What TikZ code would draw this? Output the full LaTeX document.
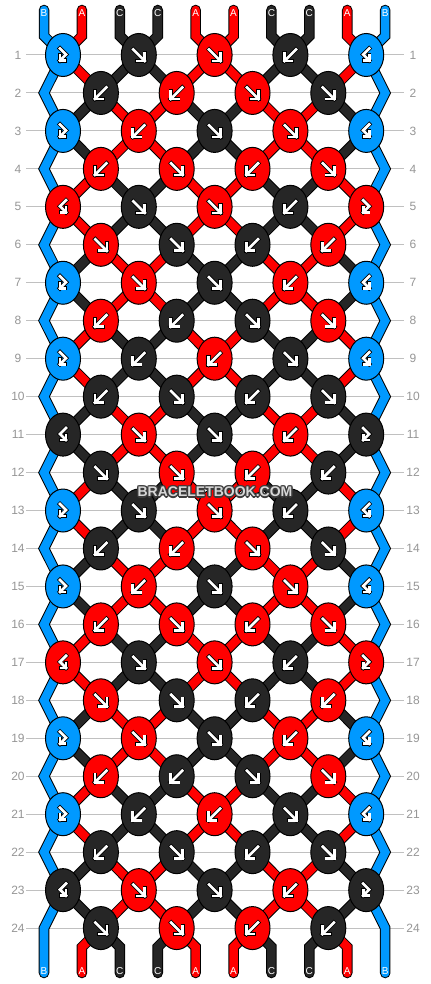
\documentclass[tikz,border=0pt]{standalone}
\usepackage{fontspec}
\setmainfont{Liberation Sans}
\usetikzlibrary{shapes.geometric}
\definecolor{cA}{RGB}{255,0,0}
\definecolor{cB}{RGB}{0,153,255}
\definecolor{cC}{RGB}{38,38,38}
\definecolor{gridgray}{RGB}{192,192,192}
\definecolor{labelgray}{RGB}{150,150,150}
\definecolor{wmdark}{RGB}{60,60,60}
\definecolor{wmlight}{RGB}{215,215,215}
\pgfdeclarelayer{bgfill}
\pgfdeclarelayer{grid}
\pgfdeclarelayer{strands}
\pgfsetlayers{bgfill,grid,strands,main}
\tikzset{
  knot/.style={ellipse, draw=black, line width=0.75pt, minimum width=26.25pt, minimum height=32.25pt, inner sep=0pt},
  strand/.style={draw=black, line width=0.75pt, double=#1, double distance=6.4pt, line cap=round},
  icono/.style={draw=black, line width=3.2pt, line cap=rect, line join=miter},
  iconi/.style={draw=white, line width=2pt, line cap=rect, line join=miter},
  gridline/.style={draw=gridgray, line width=0.75pt},
  rowlbl/.style={text=labelgray, font=\fontsize{9}{10}\selectfont, inner sep=0pt},
  strlbl/.style={text=white, font=\fontsize{7.5}{8}\selectfont, inner sep=0pt},
  wmtext/.style={font=\fontsize{10.5}{12}\selectfont\bfseries, inner sep=0pt},
  arf/.pic={
    \draw[icono] (-5.5,-5.5)--(6,6); \draw[icono] (6,-1.5)--(6,6)--(-1.5,6);
    \draw[iconi] (-5.5,-5.5)--(6,6); \draw[iconi] (6,-1.5)--(6,6)--(-1.5,6);
  },
  arb/.pic={
    \draw[icono] (5.5,-5.5)--(-6,6); \draw[icono] (-6,-1.5)--(-6,6)--(1.5,6);
    \draw[iconi] (5.5,-5.5)--(-6,6); \draw[iconi] (-6,-1.5)--(-6,6)--(1.5,6);
  },
  arfb/.pic={
    \draw[icono] (-3,-6.5)--(3,-0.5)--(-3,5.5); \draw[icono] (-3,0.5)--(-3,5.5)--(2,5.5);
    \draw[iconi] (-3,-6.5)--(3,-0.5)--(-3,5.5); \draw[iconi] (-3,0.5)--(-3,5.5)--(2,5.5);
  },
  arbf/.pic={
    \draw[icono] (3,-6.5)--(-3,-0.5)--(3,5.5); \draw[icono] (3,0.5)--(3,5.5)--(-2,5.5);
    \draw[iconi] (3,-6.5)--(-3,-0.5)--(3,5.5); \draw[iconi] (3,0.5)--(3,5.5)--(-2,5.5);
  }
}
\expandafter\def\csname kr1\endcsname{B/fb,C/f,A/f,C/b,B/bf}
\expandafter\def\csname kr2\endcsname{C/b,A/b,A/f,C/f}
\expandafter\def\csname kr3\endcsname{B/fb,A/b,C/f,A/f,B/bf}
\expandafter\def\csname kr4\endcsname{A/b,A/f,A/b,A/f}
\expandafter\def\csname kr5\endcsname{A/bf,C/f,A/f,C/b,A/fb}
\expandafter\def\csname kr6\endcsname{A/f,C/f,C/b,A/b}
\expandafter\def\csname kr7\endcsname{B/fb,A/f,C/f,A/b,B/bf}
\expandafter\def\csname kr8\endcsname{A/b,C/b,C/f,A/f}
\expandafter\def\csname kr9\endcsname{B/fb,C/b,A/b,C/f,B/bf}
\expandafter\def\csname kr10\endcsname{C/b,C/f,C/b,C/f}
\expandafter\def\csname kr11\endcsname{C/bf,A/f,C/f,A/b,C/fb}
\expandafter\def\csname kr12\endcsname{C/f,A/f,A/b,C/b}
\begin{document}
\begin{tikzpicture}[x=0.75pt,y=-0.75pt]
\begin{pgfonlayer}{bgfill}
\fill[white] (0,0) rectangle (430,984);
\end{pgfonlayer}
\useasboundingbox (0,0) rectangle (430,984);
% grid lines and row labels
\begin{pgfonlayer}{grid}
\foreach \r in {1,...,24}{
  \pgfmathsetmacro\yy{55+37.96*(\r-1)}
  \coordinate (gl-\r) at (26,\yy);
  \coordinate (gr-\r) at (404,\yy);
  \draw[gridline] (gl-\r) -- (gr-\r);
  \node[rowlbl] (rl-\r) at (18,\yy) {\r};
  \node[rowlbl] (rr-\r) at (413,\yy) {\r};
}
\end{pgfonlayer}
% knots
\foreach \r in {1,...,24}{
  \pgfmathtruncatemacro\rr{mod(\r-1,12)+1}
  \pgfmathtruncatemacro\rp{mod(\r+1,2)}
  \pgfmathsetmacro\yy{55+37.96*(\r-1)}
  \expandafter\let\expandafter\curlist\csname kr\rr\endcsname
  \foreach \kc/\kt [count=\i from 0] in \curlist {
    \pgfmathtruncatemacro\j{2*\i+\rp}
    \pgfmathsetmacro\xx{63+37.9*\j}
    \edef\tmp{\noexpand\node[knot, fill=c\kc] (k-\r-\j) at (\xx,\yy) {};
      \noexpand\pic at (k-\r-\j) {ar\kt};}
    \tmp
  }
}
% strands
\begin{pgfonlayer}{strands}
\foreach \r in {1,...,23}{
  \pgfmathtruncatemacro\rp{mod(\r+1,2)}
  \pgfmathtruncatemacro\rn{\r+1}
  \foreach \c in {0,...,7}{
    \pgfmathtruncatemacro\ja{\c+mod(\c+\rp,2)}
    \pgfmathtruncatemacro\jb{2*\c+1-\ja}
    \pgfmathtruncatemacro\isred{mod(floor((\c+1)/2)+floor(\r/2),2)==0}
    \ifnum\isred=1 \def\sc{cA}\else\def\sc{cC}\fi
    \edef\tmp{\noexpand\draw[strand=\sc] (k-\r-\ja.center) -- (k-\rn-\jb.center);}
    \tmp
  }
}
% edge zigzags
\foreach \r in {1,3,...,21}{
  \pgfmathtruncatemacro\rn{\r+1}
  \pgfmathtruncatemacro\rnn{\r+2}
  \pgfmathsetmacro\yy{55+37.96*(\rn-1)}
  \coordinate (zl-\rn) at (44,\yy);
  \coordinate (zr-\rn) at (385.2,\yy);
  \draw[strand=cB] (k-\r-0.center) -- (zl-\rn) -- (k-\rnn-0.center);
  \draw[strand=cB] (k-\r-8.center) -- (zr-\rn) -- (k-\rnn-8.center);
}
% top strands
\foreach \sc/\lt [count=\i] in {cB/B,cA/A,cC/C,cC/C,cA/A,cA/A,cC/C,cC/C,cA/A,cB/B}{
  \pgfmathsetmacro\xx{63+37.9*(\i-1.5)}
  \pgfmathtruncatemacro\j{2*floor((\i-1)/2)}
  \coordinate (ta-\i) at (\xx,10);
  \coordinate (tb-\i) at (\xx,36);
  \draw[strand=\sc] (ta-\i) -- (tb-\i) -- (k-1-\j.center);
}
% bottom strands
\foreach \sc [count=\i from 2] in {cA,cC,cC,cA,cA,cC,cC,cA}{
  \pgfmathsetmacro\xx{63+37.9*(\i-1.5)}
  \pgfmathtruncatemacro\j{2*floor(\i/2)-1}
  \coordinate (bb-\i) at (\xx,947);
  \coordinate (ba-\i) at (\xx,973);
  \draw[strand=\sc] (k-24-\j.center) -- (bb-\i) -- (ba-\i);
}
\coordinate (bb-1) at (44,928.1);
\coordinate (ba-1) at (44,973);
\coordinate (bb-10) at (385.2,928.1);
\coordinate (ba-10) at (385.2,973);
\draw[strand=cB] (k-23-0.center) -- (bb-1) -- (ba-1);
\draw[strand=cB] (k-23-8.center) -- (bb-10) -- (ba-10);
\end{pgfonlayer}
% string letters
\foreach \lt [count=\i] in {B,A,C,C,A,A,C,C,A,B}{
  \pgfmathsetmacro\xx{63+37.9*(\i-1.5)}
  \node[strlbl] (tl-\i) at (\xx,13) {\lt};
  \node[strlbl] (bl-\i) at (\xx,971) {\lt};
}
% watermark
\foreach \dx/\dy [count=\n] in {1.3/0,-1.3/0,0/1.3,0/-1.3,0.95/0.95,-0.95/0.95,0.95/-0.95,-0.95/-0.95}{
  \node[wmtext, text=wmdark] (wm-\n) at (215+\dx,492+\dy) {BRACELETBOOK.COM};
}
\node[wmtext, text=wmlight] (wm) at (215,492) {BRACELETBOOK.COM};
\end{tikzpicture}
\end{document}
